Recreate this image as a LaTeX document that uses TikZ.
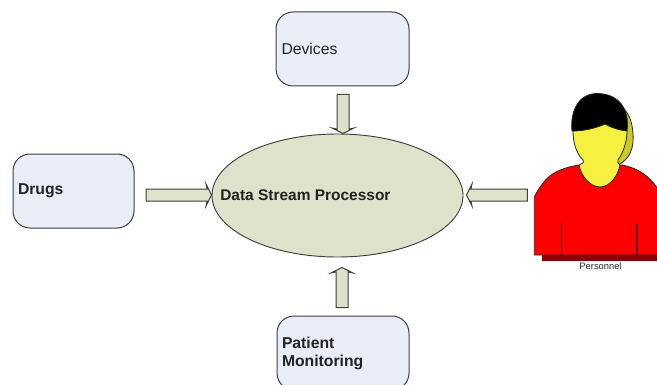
\documentclass[tikz,border=0pt]{standalone}
\usepackage{fontspec}
\setmainfont{Liberation Sans}
\usetikzlibrary{calc,shapes.geometric}
\newdimen\pxu \pxu=0.75pt
\definecolor{boxfill}{HTML}{E8EDF8}
\definecolor{procfill}{HTML}{DFE2CB}
\definecolor{edgegrey}{HTML}{3E3E3A}
\definecolor{inkdark}{HTML}{222222}
\definecolor{shirtred}{HTML}{FF0000}
\definecolor{shirtdark}{HTML}{8E0000}
\definecolor{skin}{HTML}{F6F040}
\definecolor{skinshadow}{HTML}{C9C92A}
\tikzset{
  roundbox/.style={draw=edgegrey,line width=0.75pt,fill=boxfill,rounded corners=17\pxu,
    inner xsep=5\pxu,inner ysep=0pt,align=left,font=\bfseries\fontsize{11.8}{13.5}\selectfont,text=inkdark},
  procshape/.style={draw=edgegrey,line width=0.7pt,fill=procfill,ellipse,inner sep=0pt},
  proclabel/.style={font=\bfseries\fontsize{11.6}{12}\selectfont,text=inkdark,inner sep=0pt},
  blockarrow/.style={draw=edgegrey,line width=0.75pt,fill=procfill,line join=miter,
    to path={
      ($(\tikztostart)!6\pxu!90:(\tikztotarget)$)
      -- ($(\tikztotarget)!4.5\pxu!(\tikztostart)!6\pxu!-90:(\tikztostart)$)
      -- ($(\tikztotarget)!5.5\pxu!(\tikztostart)!11\pxu!-90:(\tikztostart)$)
      -- (\tikztotarget)
      -- ($(\tikztotarget)!5.5\pxu!(\tikztostart)!11\pxu!90:(\tikztostart)$)
      -- ($(\tikztotarget)!4.5\pxu!(\tikztostart)!6\pxu!90:(\tikztostart)$)
      -- ($(\tikztostart)!6\pxu!-90:(\tikztotarget)$) -- cycle}},
  outline/.style={draw=black!85,line width=0.6pt},
}
\begin{document}
\begin{tikzpicture}[x=0.75pt,y=-0.75pt]
\useasboundingbox (0,0) rectangle (657,385);
\clip (0,0) rectangle (657,385);
% boxes
\node[roundbox,minimum width=121\pxu,minimum height=74\pxu,text width=111\pxu] (drugs) at (73.5,191) {Drugs};
\node[roundbox,minimum width=133\pxu,minimum height=74\pxu,text width=122\pxu,xshift=0.5\pxu] (devices) at (342,49) {\fontseries{m}\selectfont Devices};
\node[roundbox,minimum width=132\pxu,minimum height=74\pxu,text width=122\pxu] (patient) at (343,353) {Patient\\Monitoring};
% processor
\node[procshape,minimum width=251\pxu,minimum height=123\pxu] (proc) at (337.5,195.5) {};
\node[proclabel,anchor=west] (proclabel) at ($(proc.west)+(8.5,0)$) {Data Stream Processor};
% person
\fill[shirtdark] (542,250) rectangle (657,260.5);
\path[fill=shirtred,outline] (534.3,255) -- (534.3,197)
  .. controls (541,184) and (548,176) .. (556,172)
  .. controls (564,168) and (572,166) .. (580,165)
  -- (622,165) .. controls (638,168) and (650,176) .. (660,192)
  -- (660,255) -- cycle;
\draw[shirtdark!70!black,line width=0.8pt] (561.5,223) -- (561.5,255);
\draw[shirtdark!70!black,line width=0.8pt] (637,223) -- (637,255);
\path[fill=skinshadow,outline] (622,108) .. controls (630,112) and (634,128) .. (633,142)
  .. controls (632,152) and (628,160) .. (618,165) -- (610,140) -- cycle;
\path[fill=skin,outline] (573,131) .. controls (573,142) and (576,153) .. (583,160)
  .. controls (585,163) and (581,164) .. (579,165)
  .. controls (581,176) and (590,187) .. (600,187)
  .. controls (610,187) and (618,176) .. (620,165)
  .. controls (618,163) and (617,162) .. (618,160)
  .. controls (623,153) and (627,142) .. (627,131) -- (605,120) -- cycle;
\path[fill=black,outline] (572,131) .. controls (570,112) and (578,93) .. (598,93.5)
  .. controls (618,94) and (630,108) .. (627,131)
  .. controls (618,130) and (610,127) .. (605,124)
  .. controls (596,128) and (585,131) .. (572,131) -- cycle;
\node[font=\fontsize{7}{8}\selectfont,text=inkdark,inner sep=0pt] (personnel) at (600.5,266) {Personnel};
% arrows
\draw[blockarrow] ($(drugs.east)+(11.5,4)$) to ($(proc.west)+(0,-0.5)$);
\draw[blockarrow] ($(devices.south)+(0.5,8)$) to ($(proc.north)+(5.5,0)$);
\draw[blockarrow] ($(patient.north)+(-1,-8)$) to ($(proc.south)+(4.5,10)$);
\draw[blockarrow] ($(proc.east)+(64,-0.5)$) to ($(proc.east)+(3,-0.5)$);
\end{tikzpicture}
\end{document}
